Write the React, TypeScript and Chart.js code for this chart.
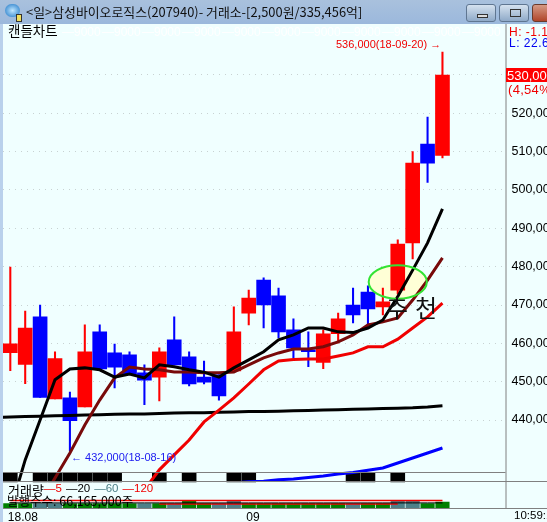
import React, { useEffect, useRef } from "react";
import { Chart, registerables } from "chart.js";

Chart.register(...registerables);

// Prices in thousands of won
const opens = [457.6,454.5,466.9,445.5,445.8,443.4,463.0,457.5,457.0,452.3,451.2,460.9,456.5,451.2,451.8,452.8,467.9,476.5,472.4,463.5,458.3,455.0,462.5,470.0,473.4,469.5,473.9,486.2,512.0,509.0];
const closes = [459.9,464.0,445.9,456.0,439.8,457.8,453.3,453.8,451.8,450.4,457.8,454.4,449.4,449.9,446.3,463.0,471.8,470.0,463.0,458.8,457.8,462.5,466.4,467.4,469.0,470.8,485.9,507.0,507.0,530.0];
const highs = [479.9,468.4,470.0,457.8,447.3,464.8,464.8,459.8,457.8,454.4,458.8,466.9,457.8,455.4,451.8,469.5,473.9,477.1,474.4,466.4,463.0,463.5,467.9,474.4,475.0,474.4,487.0,510.0,519.0,536.0];
const lows = [452.9,449.5,445.9,445.5,432.0,443.4,453.3,448.4,451.8,444.0,445.0,454.4,448.9,449.4,445.2,452.8,464.8,464.0,461.4,456.2,453.9,453.4,460.1,465.3,465.0,467.4,472.9,482.0,502.0,508.4];

const maBlack = [416.5,429.6,440.0,450.5,453.3,453.6,453.1,451.2,452.0,451.0,454.4,453.9,453.1,452.5,451.2,453.6,455.7,457.8,460.9,462.2,464.0,464.0,463.0,462.8,464.0,466.1,472.2,479.1,486.2,495.1];
const maMaroon = [404.6,411.3,418.1,424.9,431.4,438.7,445.2,451.0,453.8,453.3,453.1,452.5,452.5,452.3,452.3,452.5,454.4,456.2,457.5,458.5,458.5,459.1,460.4,462.2,464.8,465.6,466.6,471.3,476.5,482.3];
const maRed = [null,null,null,null,null,null,null,null,416.6,421.8,427.0,430.9,434.8,439.5,442.6,445.8,449.4,453.1,455.4,455.8,455.9,455.9,456.7,457.5,459.1,459.1,461.1,464.0,466.9,470.5];
// The long average runs in from the day before the first candle
const maLong = [440.7,440.8,440.9,441.0,441.1,441.2,441.3,441.4,441.5,441.6,441.6,441.7,441.8,441.9,441.9,442.0,442.1,442.2,442.2,442.3,442.4,442.5,442.6,442.7,442.8,442.9,443.0,443.1,443.2,443.4,443.7];
const maBlue = [null,null,null,null,null,null,null,null,null,null,null,null,null,null,423.3,423.6,423.9,424.0,424.4,424.6,425.0,425.4,425.9,426.3,426.9,427.5,428.8,430.1,431.4,432.7];

// Signal strip and volume pane
const signalDays = [0,2,3,4,5,6,7,10,12,15,16,23,24,26];
const volumes = [5,5,5,5,5,5,5,5,5,5,5,5,8,5,5,8,5,5,5,5,5,5,5,5,5,5,8,8,5,6.5];
const volumeFalling = [2,3,9,11,14,15,23,26,27];
const volMaTop = [8.1,8.1,8.1,8.1,8.1,8.1,8.1,8.1,8.1,8.1,8.1,8.1,8.1,8.1,8.1,8.1,8.1,8.1,8.1,8.1,8.1,8.1,8.1,8.1,8.1,8.1,8.1,8.1,8.1,8.1];
const volMaMid = [5.6,5.6,5.6,5.6,5.6,5.6,5.6,5.6,5.6,5.6,5.6,5.6,5.6,5.6,5.6,5.6,5.6,5.6,5.6,5.6,5.6,5.6,5.6,5.6,5.6,5.6,5.6,5.6,5.6,5.6];
const volMaLow = [null,null,null,null,null,null,null,null,null,null,4.6,4.6,4.6,4.6,4.6,4.6,4.6,4.6,4.6,4.6,4.6,4.6,4.6,4.6,4.6,4.6,4.6,null,null,null];

const priceTicks = [440,450,460,470,480,490,500,510,520,530];
const dateTicks = [{ day: 0, label: "18.08" }, { day: 16, label: "09" }];
const currentPrice = 530;
const ghostLabels = ["—9000","—9000","—9000","—9000","—9000","—9000","—9000","—9000","—9000","—9000","—9000"];
const legendParts = [
  { text: "—5", color: "#f00000" },
  { text: "—20", color: "#000000" },
  { text: "—60", color: "#4d8088" },
  { text: "—120", color: "#f00000" },
];

const RED = "#ff0000";
const BLUE = "#0000ff";
const FONT = '"Noto Sans CJK KR", "Noto Sans", sans-serif';
const DIGITS = '"Liberation Sans", sans-serif';

const days = opens.map((_, i) => i);
const candleColors = days.map((i) => (closes[i] >= opens[i] ? RED : BLUE));

const ellipse = { day: 26, price: 476.0, rDays: 1.95, rPrice: 4.36 };

const trace = (ctx: any, chart: any) => {
  const x = chart.scales.x;
  const y = chart.scales.y;
  const cx = x.getPixelForValue(ellipse.day);
  const cy = y.getPixelForValue(ellipse.price);
  const rx = x.getPixelForValue(ellipse.day + ellipse.rDays) - cx;
  const ry = cy - y.getPixelForValue(ellipse.price + ellipse.rPrice);
  ctx.beginPath();
  ctx.ellipse(cx, cy, rx, ry, 0, 0, Math.PI * 2);
};

const framePlugin = {
  id: "frame",
  beforeDatasetsDraw(chart: any) {
    const { ctx } = chart;
    ctx.save();
    trace(ctx, chart);
    ctx.fillStyle = "#ffffd6";
    ctx.fill();
    ctx.restore();
  },
  afterDatasetsDraw(chart: any) {
    const { ctx, chartArea, width } = chart;
    ctx.save();
    trace(ctx, chart);
    ctx.strokeStyle = "#33e333";
    ctx.lineWidth = 2;
    ctx.stroke();
    ctx.strokeStyle = "#808080";
    ctx.lineWidth = 1;
    const right = chartArea.right;
    const rule = (x1: number, y1: number, x2: number, y2: number) => {
      ctx.beginPath();
      ctx.moveTo(x1, y1);
      ctx.lineTo(x2, y2);
      ctx.stroke();
    };
    rule(right + 0.5, chartArea.top, right + 0.5, 508.5);
    rule(chartArea.left, 472.5, right, 472.5);
    rule(chartArea.left, 481.5, width, 481.5);
    rule(chartArea.left, 508.5, width, 508.5);
    ctx.restore();
  },
};

const lineSet = (data: any[], color: string, order: number, yAxisID = "y", width = 3, firstDay = 0) => ({
  type: "line",
  data: data.map((v, i) => ({ x: i + firstDay, y: v })),
  borderColor: color,
  borderWidth: width,
  pointRadius: 0,
  tension: 0,
  order,
  yAxisID,
  spanGaps: false,
  clip: yAxisID === "y" ? { left: 0, top: 0, right: 0, bottom: -26.5 } : 0,
});

const text = (extra: any): any => ({
  position: "absolute",
  whiteSpace: "nowrap",
  fontFamily: FONT,
  lineHeight: 1,
  ...extra,
});

export default function App() {
  const ref = useRef<HTMLCanvasElement | null>(null);

  useEffect(() => {
    const chart = new Chart(ref.current as any, {
      type: "bar",
      data: {
        datasets: [
          {
            data: signalDays.map((d) => ({ x: d, y: [0, 1] })),
            backgroundColor: "#000000",
            barThickness: 14,
            grouped: false,
            yAxisID: "ySignal",
            order: 20,
          },
          {
            data: days.map((i) => ({ x: i, y: [lows[i], highs[i]] })),
            backgroundColor: candleColors,
            barThickness: 1.4,
            grouped: false,
            order: 19,
          },
          {
            data: days.map((i) => ({ x: i, y: [opens[i], closes[i]] })),
            backgroundColor: candleColors,
            barThickness: 14,
            grouped: false,
            order: 18,
          },
          {
            data: days.map((i) => ({ x: i, y: volumes[i] })),
            backgroundColor: days.map((i) => (volumeFalling.includes(i) ? "#4d8088" : "#008000")),
            barThickness: 13.5,
            grouped: false,
            yAxisID: "yVol",
            order: 17,
          },
          lineSet(maLong, "#000000", 9, "y", 3, -1),
          lineSet(maBlue, BLUE, 8),
          lineSet(maRed, "#f00000", 7),
          lineSet(maMaroon, "#780a0a", 6),
          lineSet(maBlack, "#000000", 5),
          lineSet(volMaLow, "#f00000", 4, "yVol", 1.5),
          lineSet(volMaMid, "#000000", 3, "yVol", 1),
          lineSet(volMaTop, "#f00000", 2, "yVol", 1.5),
        ] as any,
      },
      options: {
        animation: false,
        responsive: false,
        layout: { padding: { left: 3, top: 24, right: 0, bottom: 0 } },
        plugins: { legend: { display: false }, tooltip: { enabled: false } },
        scales: {
          x: {
            type: "linear",
            offset: false,
            min: -0.49,
            max: 33.23,
            grid: { display: false, drawTicks: false },
            border: { display: false },
            afterFit: (s: any) => { s.height = 13.5; },
            afterBuildTicks: (s: any) => { s.ticks = dateTicks.map((t) => ({ value: t.day })); },
            ticks: {
              autoSkip: false,
              maxRotation: 0,
              align: "start",
              labelOffset: -2.5,
              padding: 2,
              color: "#000000",
              font: { family: DIGITS, size: 12 },
              callback: (v: any) => dateTicks.find((t) => t.day === v)?.label ?? "",
            },
          },
          y: {
            position: "right",
            min: 416.92,
            max: 543.3,
            grid: { color: "#c8d2d2", drawTicks: false },
            border: { display: false, dash: [1, 5] },
            afterFit: (s: any) => { s.width = 41.5; },
            afterBuildTicks: (s: any) => { s.ticks = priceTicks.map((v) => ({ value: v })); },
            ticks: {
              padding: 6,
              color: "#000000",
              font: { family: DIGITS, size: 12.5 },
              callback: (v: any) => (v === currentPrice ? "" : (v * 1000).toLocaleString("en-US")),
            },
          },
          ySignal: { display: false, min: -2.86, max: 49.25 },
          yVol: { display: false, min: 0, max: 484.6 },
        },
      } as any,
      plugins: [framePlugin],
    });
    return () => chart.destroy();
  }, []);

  return (
    <div style={{ position: "absolute", left: 0, top: 0, width: 547, height: 522, overflow: "hidden", background: "#f0ffff" }}>
      <canvas ref={ref} width={547} height={522} style={{ position: "absolute", left: 0, top: 0 }} />
      <div style={{ position: "absolute", left: 0, top: 24, width: 3, height: 498, background: "#b9d1ec" }} />
      <div style={{ position: "absolute", left: 0, top: 0, width: 547, height: 24, background: "linear-gradient(#a9c1dd,#9bb8dc)" }} />
      <div style={{ position: "absolute", left: 5, top: 4, width: 15, height: 13, borderRadius: 8, background: "radial-gradient(#bfe6ff,#1873c4)" }} />
      <div style={{ position: "absolute", left: 16, top: 14, width: 4, height: 6, background: "#f0e060", border: "1px solid #333" }} />
      <div style={text({ left: 26, top: 6, fontSize: 12.9, color: "#111" })}>&lt;일&gt;삼성바이오로직스(207940)- 거래소-[2,500원/335,456억]</div>
      {[466, 499].map((l, i) => (
        <div key={l} style={{ position: "absolute", left: l, top: 4, width: 30, height: 18, borderRadius: 3, border: "1px solid #5f7691", boxSizing: "border-box", background: "linear-gradient(#d5e2ef,#8faac8)" }}>
          <div style={{ position: "absolute", left: 10, top: i === 0 ? 9 : 4, width: 9, height: i === 0 ? 2 : 6, border: "1px solid #333", background: i === 0 ? "#ddd" : "transparent" }} />
        </div>
      ))}
      <div style={{ position: "absolute", left: 532, top: 4, width: 20, height: 18, borderRadius: 3, border: "1px solid #6b3a2a", boxSizing: "border-box", background: "linear-gradient(#d59a85,#b0452a)" }} />

      <div style={text({ left: 8, top: 24, fontSize: 13.5, color: "#000" })}>캔들차트</div>
      {ghostLabels.map((g, i) => (
        <div key={i} style={text({ left: 62 + i * 40, top: 26, fontSize: 12, color: "#ffffff", fontFamily: DIGITS })}>{g}</div>
      ))}
      <div style={text({ left: 336, top: 39, fontSize: 11, color: "#f00000", fontFamily: DIGITS })}>536,000(18-09-20) →</div>
      <div style={text({ left: 71, top: 452, fontSize: 11, color: "#2020f0", fontFamily: DIGITS })}>← 432,000(18-08-16)</div>
      <div style={text({ left: 386, top: 295, fontSize: 24, letterSpacing: 7, color: "#111" })}>추천</div>

      <div style={text({ left: 509, top: 26, fontSize: 12, color: "#f00000", fontFamily: DIGITS, letterSpacing: 0.5 })}>H: -1.12</div>
      <div style={text({ left: 509, top: 37, fontSize: 12, color: "#0000f0", fontFamily: DIGITS, letterSpacing: 0.5 })}>L: 22.69</div>
      <div style={{ ...text({ left: 506, top: 68, fontSize: 13, color: "#ffffff", fontFamily: DIGITS }), width: 41, height: 13, paddingLeft: 1, paddingTop: 1, background: RED, overflow: "hidden" }}>530,000</div>
      <div style={text({ left: 508, top: 83, fontSize: 13, color: "#f00000", fontFamily: DIGITS, letterSpacing: 0.3 })}>(4,54%)</div>

      <div style={text({ left: 8, top: 483, fontSize: 13, color: "#000" })}>거래량</div>
      <div style={{ ...text({ left: 44, top: 483, fontSize: 11.5, fontFamily: DIGITS }), display: "flex", gap: 4 }}>
        {legendParts.map((p) => (
          <span key={p.text} style={{ color: p.color }}>{p.text}</span>
        ))}
      </div>
      <div style={text({ left: 7, top: 495, fontSize: 12.5, color: "#000" })}>발행주수: 66,165,000주</div>
      <div style={text({ left: 514, top: 510, fontSize: 11.5, color: "#000", fontFamily: DIGITS })}>10:59:15</div>
    </div>
  );
}
